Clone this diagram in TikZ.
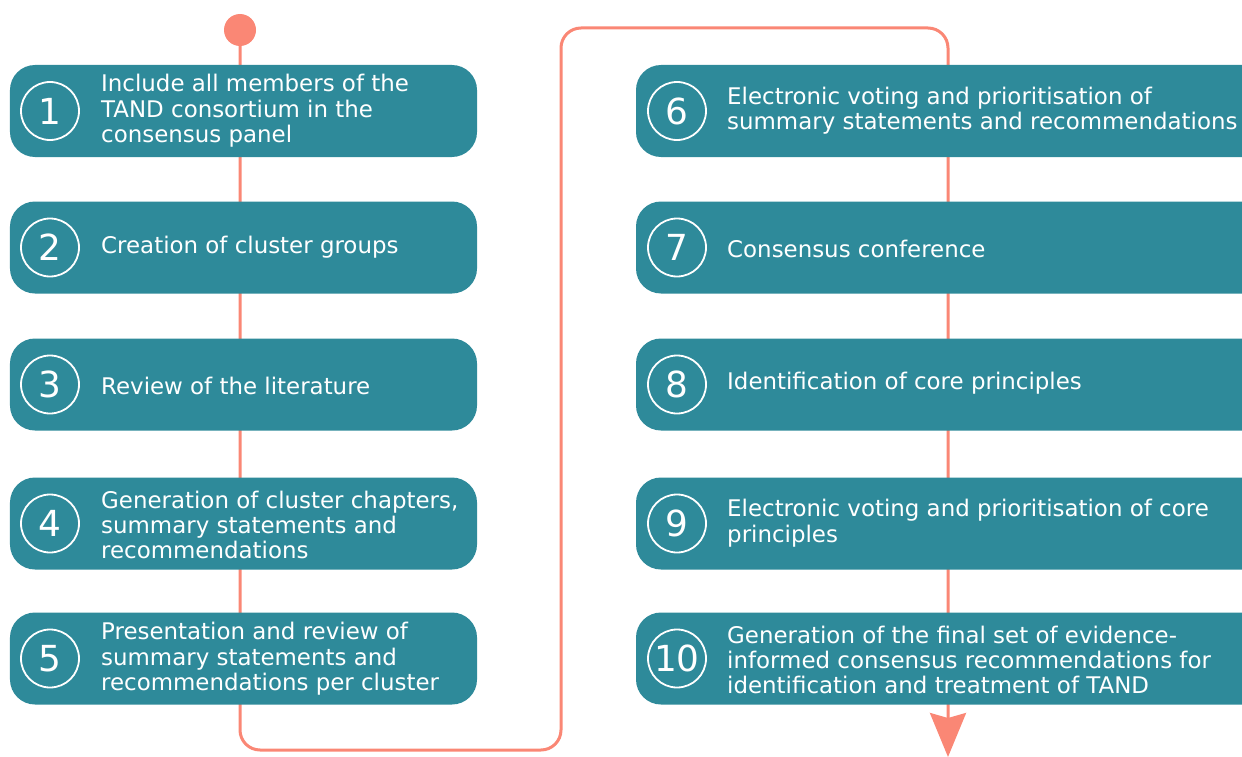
\documentclass[tikz,border=0pt]{standalone}
\usepackage{fontspec}
\setmainfont{DejaVu Sans}
\usetikzlibrary{arrows.meta,backgrounds}
\definecolor{tandteal}{HTML}{2E8A9A}
\definecolor{tandsalmon}{HTML}{FA8775}
\tikzset{
  stepbox/.style={fill=tandteal,rounded corners=25bp,minimum height=92bp,inner sep=0},
  leftbox/.style={stepbox,minimum width=467bp},
  rightbox/.style={stepbox,minimum width=640bp},
  stepnum/.style={circle,draw=white,line width=1.8bp,minimum size=58bp,inner sep=0,
    text=white,font=\fontsize{36}{36}\selectfont},
  steptext/.style={anchor=west,align=left,text=white,inner sep=0,
    font=\fontsize{23}{25.5}\selectfont},
  flow/.style={draw=tandsalmon,line width=3bp,rounded corners=20bp}
}
\begin{document}
\begin{tikzpicture}[x=1bp,y=-1bp]
\useasboundingbox (0,0) rectangle (1242,757);
\clip (0,0) rectangle (1242,757);
% left column
\node[leftbox] (b1) at (243.5,111) {};
\node[leftbox] (b2) at (243.5,247.5) {};
\node[leftbox] (b3) at (243.5,384.5) {};
\node[leftbox] (b4) at (243.5,523.5) {};
\node[leftbox] (b5) at (243.5,658.5) {};
\node[stepnum] (n1) at (50,111) {1};
\node[stepnum] (n2) at (50,247.5) {2};
\node[stepnum] (n3) at (50,384.5) {3};
\node[stepnum] (n4) at (50,523.5) {4};
\node[stepnum] (n5) at (50,658.5) {5};
\node[steptext] (t1) at (101,111) {Include all members of the\\TAND consortium in the\\consensus panel};
\node[steptext] (t2) at (101,247.5) {Creation of cluster groups};
\node[steptext] (t3) at (101,385.5) {Review of the literature};
\node[steptext] (t4) at (101,525) {Generation of cluster chapters,\\summary statements and\\recommendations};
\node[steptext] (t5) at (101,659) {Presentation and review of\\summary statements and\\recommendations per cluster};
% right column
\node[rightbox] (b6) at (956,111) {};
\node[rightbox] (b7) at (956,247.5) {};
\node[rightbox] (b8) at (956,384.5) {};
\node[rightbox] (b9) at (956,523.5) {};
\node[rightbox] (b10) at (956,658.5) {};
\node[stepnum] (n6) at (677,111) {6};
\node[stepnum] (n7) at (677,247.5) {7};
\node[stepnum] (n8) at (677,384.5) {8};
\node[stepnum] (n9) at (677,523.5) {9};
\node[stepnum] (n10) at (677,658.5) {10};
\node[steptext] (t6) at (727,110.5) {Electronic voting and prioritisation of\\summary statements and recommendations};
\node[steptext] (t7) at (727,248.5) {Consensus conference};
\node[steptext] (t8) at (727,383.5) {Identification of core principles};
\node[steptext] (t9) at (727,523) {Electronic voting and prioritisation of core\\principles};
\node[steptext] (t10) at (727,660) {Generation of the final set of evidence-\\informed consensus recommendations for\\identification and treatment of TAND};
% flow line behind the boxes
\node[circle,fill=tandsalmon,minimum size=32bp,inner sep=0] (dot) at (240,30) {};
\coordinate (c1) at (240,750);
\coordinate (c2) at (561,750);
\coordinate (c3) at (561,28);
\coordinate (c4) at (948,28);
\coordinate (end) at (948,757);
\begin{scope}[on background layer]
\draw[flow,-{Stealth[length=44bp,width=36bp,inset=5bp]}] (dot.center) -- (c1) -- (c2) -- (c3) -- (c4) -- (end);
\end{scope}
\end{tikzpicture}
\end{document}
